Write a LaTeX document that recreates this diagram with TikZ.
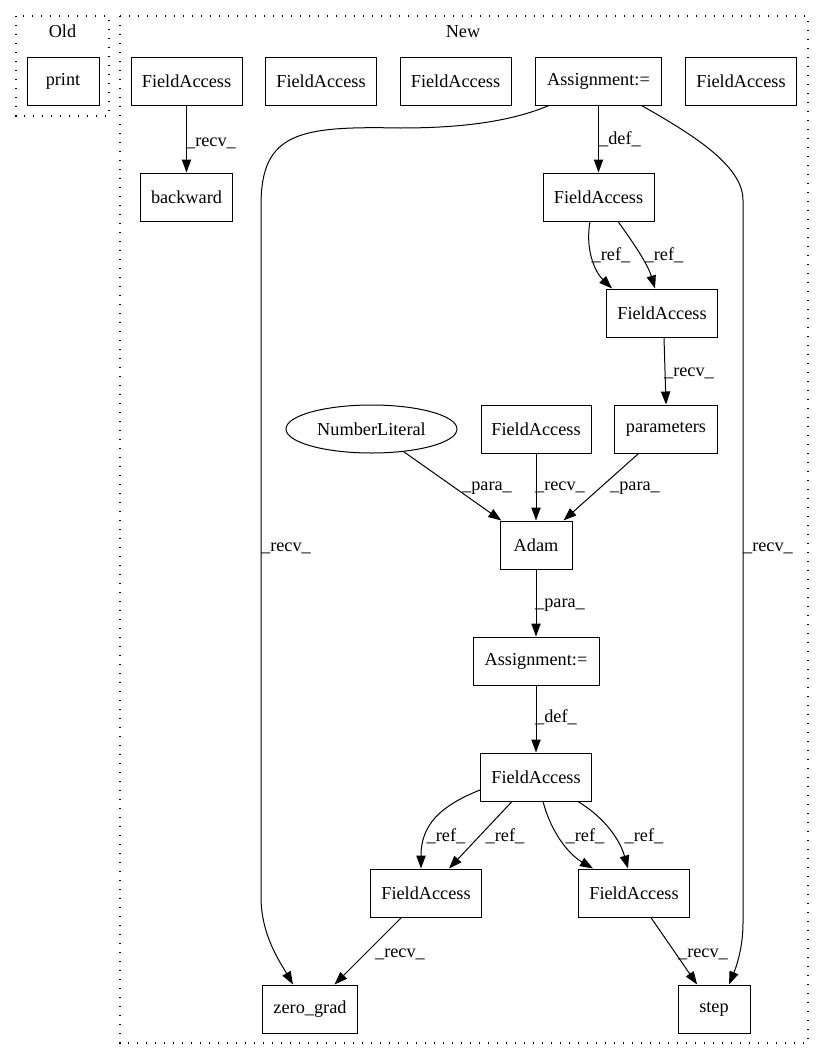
\documentclass[tikz,border=0pt]{standalone}
\usepackage{fontspec}
\setmainfont{Liberation Serif}
\usetikzlibrary{arrows.meta,calc,shapes.geometric}
\begin{document}
\begin{tikzpicture}[x=0.75pt,y=-0.75pt,
  every node/.style={font=\fontsize{13.7pt}{16pt}\selectfont},
  box/.style={draw, line width=0.75pt, rectangle, minimum height=36pt, inner sep=0pt},
  oval/.style={draw, line width=0.75pt, ellipse, minimum height=36pt, inner sep=0pt},
  cluster/.style={draw, line width=1pt, dash pattern=on 1.1pt off 5.65pt},
  edge/.style={line width=0.75pt, -{Triangle[length=9.75pt,width=7pt]}},
  lbl/.style={anchor=base, inner sep=0pt}]
\useasboundingbox (0,0) rectangle (824,1060);
% clusters
\draw[cluster] (16,16) rectangle (109,116);
\node[lbl] (oldlbl) at (62.5,37) {Old};
\draw[cluster] (120,16) rectangle (808,1043);
\node[lbl] (newlbl) at (463,37) {New};
% nodes
\node[box, minimum width=54pt] (print) at (63,81) {print};
\node[box, minimum width=83.25pt] (A1) at (186.5,81) {FieldAccess};
\node[box, minimum width=83.25pt] (A2) at (321,81) {FieldAccess};
\node[box, minimum width=83.25pt] (A3) at (455.5,81) {FieldAccess};
\node[box, minimum width=94.5pt] (asg1) at (598.5,81) {Assignment:=};
\node[box, minimum width=83.25pt] (A4) at (741,81) {FieldAccess};
\node[box, minimum width=69pt] (backward) at (186.5,197) {backward};
\node[box, minimum width=83.25pt] (F1) at (598.5,197) {FieldAccess};
\node[box, minimum width=83.25pt] (F2) at (662,313) {FieldAccess};
\node[box, minimum width=77.25pt] (params) at (666,429) {parameters};
\node[oval, minimum width=128.25pt] (NL) at (371.5,429) {NumberLiteral};
\node[box, minimum width=82.5pt] (FAmid) at (536,429) {FieldAccess};
\node[box, minimum width=54pt] (adam) at (536,545) {Adam};
\node[box, minimum width=94.5pt] (asg2) at (536,661) {Assignment:=};
\node[box, minimum width=83.25pt] (F3) at (536,777) {FieldAccess};
\node[box, minimum width=83.25pt] (F4) at (426,893) {FieldAccess};
\node[box, minimum width=83.25pt] (F5) at (634,893) {FieldAccess};
\node[box, minimum width=71.25pt] (zero) at (310,1009) {zero\_grad};
\node[box, minimum width=54pt] (step) at (714,1009) {step};
% edges
\draw[edge] (A1.south) -- (backward.north);
\node[lbl] at (211,146) {\_recv\_};
\draw[edge] (asg1.south) -- (F1.north);
\node[lbl] at (620,144) {\_def\_};
\draw[edge] ($(asg1.south)+(-49.5,0)$) .. controls (505,124) and (450,128) .. (400,128)
   .. controls (300,126) and (261,132) .. (261,205) -- (261,897)
   .. controls (261,935) and (280,962) .. ($(zero.north)+(-17,0)$);
\node[lbl] at (286,551) {\_recv\_};
\draw[edge] ($(asg1.south)+(43,0)$) .. controls (690,133) and (743,165) .. (743,200) -- (743,923)
   .. controls (743,950) and (735,970) .. ($(step.north)+(15,0)$);
\node[lbl] at (768,551) {\_recv\_};
\draw[edge] ($(F1.south)+(-8.5,0)$) .. controls (585,250) and (595,272) .. ($(F2.north)+(-50,0)$);
\draw[edge] ($(F1.south)+(19.5,0)$) .. controls (635,245) and (648,265) .. ($(F2.north)+(-7,0)$);
\node[lbl] at (611,260) {\_ref\_};
\node[lbl] at (664,260) {\_ref\_};
\draw[edge] ($(F2.south)+(2,0)$) -- (params.north);
\node[lbl] at (689,376) {\_recv\_};
\draw[edge] (NL) -- (adam);
\node[lbl] at (487,490) {\_para\_};
\draw[edge] (FAmid.south) -- (adam.north);
\node[lbl] at (560,490) {\_recv\_};
\draw[edge] (params) -- (adam);
\node[lbl] at (635,490) {\_para\_};
\draw[edge] (adam.south) -- (asg2.north);
\node[lbl] at (560,607) {\_para\_};
\draw[edge] (asg2.south) -- (F3.north);
\node[lbl] at (556,722) {\_def\_};
\draw[edge] ($(F3.west)+(0,13)$) .. controls (440,806) and (421,825) .. ($(F4.north)+(-5,0)$);
\draw[edge] ($(F3.south)+(-24,0)$) -- ($(F4.north)+(23,0)$);
\node[lbl] at (446,841) {\_ref\_};
\node[lbl] at (505,841) {\_ref\_};
\draw[edge] ($(F3.south)+(7,0)$) .. controls (552,835) and (570,855) .. ($(F5.north)+(-41,0)$);
\draw[edge] ($(F3.south)+(42,0)$) .. controls (605,818) and (620,840) .. ($(F5.north)+(-6,0)$);
\node[lbl] at (585,841) {\_ref\_};
\node[lbl] at (644,841) {\_ref\_};
\draw[edge] (F4) -- (zero);
\node[lbl] at (400,957) {\_recv\_};
\draw[edge] (F5) -- (step);
\node[lbl] at (703,957) {\_recv\_};
\end{tikzpicture}
\end{document}
